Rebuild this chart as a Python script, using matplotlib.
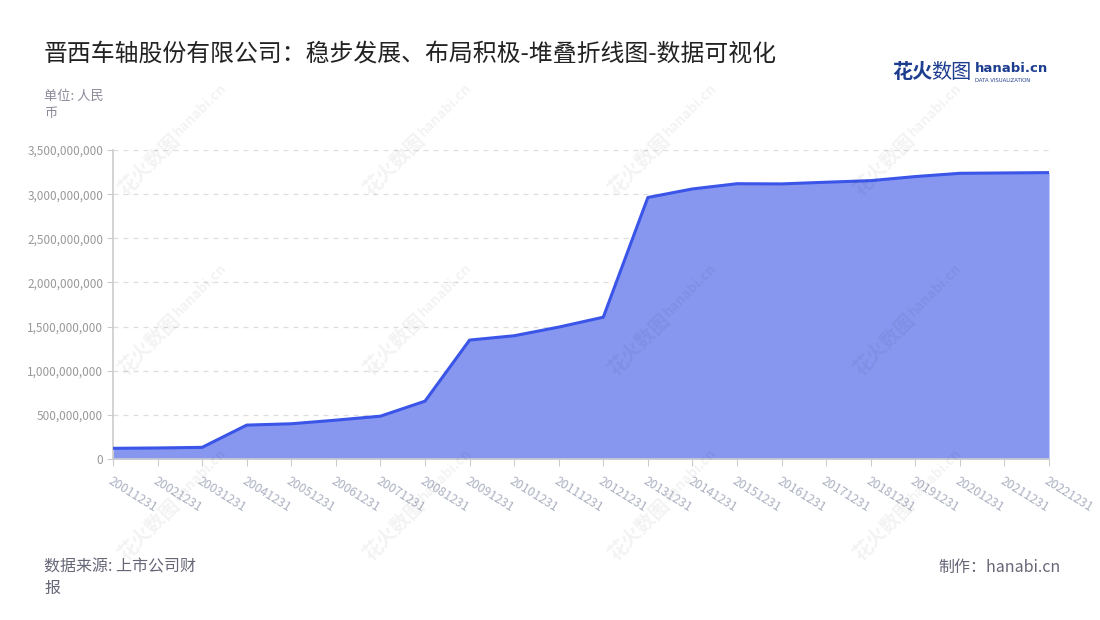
import matplotlib
matplotlib.use('Agg')
import matplotlib.pyplot as plt
from matplotlib.ticker import FuncFormatter, MultipleLocator

plt.rcParams['font.family'] = ['Noto Sans CJK SC', 'DejaVu Sans']

# dati (unità: yuan)
anni = ['20011231', '20021231', '20031231', '20041231', '20051231', '20061231',
        '20071231', '20081231', '20091231', '20101231', '20111231', '20121231',
        '20131231', '20141231', '20151231', '20161231', '20171231', '20181231',
        '20191231', '20201231', '20211231', '20221231']
valori = [121e6, 125e6, 132e6, 384e6, 399e6, 440e6,
          485e6, 655e6, 1347e6, 1396e6, 1494e6, 1606e6,
          2962e6, 3059e6, 3118e6, 3116e6, 3135e6, 3153e6,
          3199e6, 3236e6, 3240e6, 3244e6]

W, H = 1100, 620
fig = plt.figure(figsize=(W / 100, H / 100), dpi=100)

# area del grafico in pixel: x 113..1049, y 150..459
ax = fig.add_axes([113 / W, 1 - 459 / H, (1049 - 113) / W, (459 - 150) / H])

x = list(range(len(anni)))
ax.fill_between(x, valori, 0, color='#8797f0', lw=0, zorder=2)
ax.plot(x, valori, color='#3a55e8', lw=2.2, zorder=3, solid_joinstyle='round')

ax.set_xlim(0, len(anni) - 1)
ax.set_ylim(0, 3.5e9)
ax.yaxis.set_major_locator(MultipleLocator(5e8))
ax.yaxis.set_major_formatter(FuncFormatter(lambda v, p: f'{int(v):,}'))
ax.grid(axis='y', color='#dddddd', ls=(0, (4, 4)), lw=0.9, zorder=1)

ax.set_xticks(x)
ax.set_xticklabels(anni, rotation=-32, ha='left', va='top', rotation_mode='anchor')

for s in ['top', 'right']:
    ax.spines[s].set_visible(False)
ax.spines['left'].set_color('#cccccc')
ax.spines['bottom'].set_color('#cccccc')
ax.spines['left'].set_linewidth(1.2)
ax.spines['bottom'].set_linewidth(1.2)
ax.tick_params(axis='y', colors='#cccccc', labelcolor='#999999', labelsize=8.5,
               length=4, pad=3)
ax.tick_params(axis='x', colors='#cccccc', labelcolor='#aab0c0', labelsize=8.8,
               length=5, pad=6)

# filigrana
for wx in [150, 395, 640, 885]:
    for wy in [165, 345, 530]:
        fig.text(wx / W, 1 - wy / H, '花火数图', rotation=45, fontsize=14,
                 color='#000000', alpha=0.05, ha='center', va='center',
                 fontweight='bold')
        fig.text((wx + 50) / W, 1 - (wy - 55) / H, 'hanabi.cn', rotation=45,
                 fontsize=10, color='#000000', alpha=0.05, ha='center',
                 va='center', fontweight='bold')

# titolo e testi
fig.text(44 / W, 1 - 54 / H, '晋西车轴股份有限公司：稳步发展、布局积极-堆叠折线图-数据可视化',
         fontsize=17.2, color='#222222', ha='left', va='center')
fig.text(44 / W, 1 - 96 / H, '单位: 人民', fontsize=9.5, color='#8a8a9a',
         ha='left', va='center')
fig.text(44 / W, 1 - 113 / H, '币', fontsize=9.5, color='#8a8a9a',
         ha='left', va='center')
fig.text(44 / W, 1 - 567 / H, '数据来源: 上市公司财', fontsize=11.5, color='#666677',
         ha='left', va='center')
fig.text(44 / W, 1 - 588 / H, '报', fontsize=11.5, color='#666677',
         ha='left', va='center')
fig.text(1061 / W, 1 - 567 / H, '制作：hanabi.cn', fontsize=11.5, color='#666677',
         ha='right', va='center')

# logo
fig.text(892 / W, 1 - 72 / H, '花火', fontsize=14.5, color='#1d3d8f',
         fontweight='bold', ha='left', va='center')
fig.text(931 / W, 1 - 72 / H, '数图', fontsize=14.5, color='#1d3d8f',
         ha='left', va='center')
fig.text(975 / W, 1 - 69 / H, 'hanabi.cn', fontsize=9.5, color='#1d3d8f',
         fontweight='bold', ha='left', va='center', family=['DejaVu Sans'])
fig.text(975 / W, 1 - 80 / H, 'DATA VISUALIZATION', fontsize=3.8, color='#1d3d8f',
         ha='left', va='center', family=['DejaVu Sans'])

fig.savefig('out.png', dpi=100, facecolor='white')
